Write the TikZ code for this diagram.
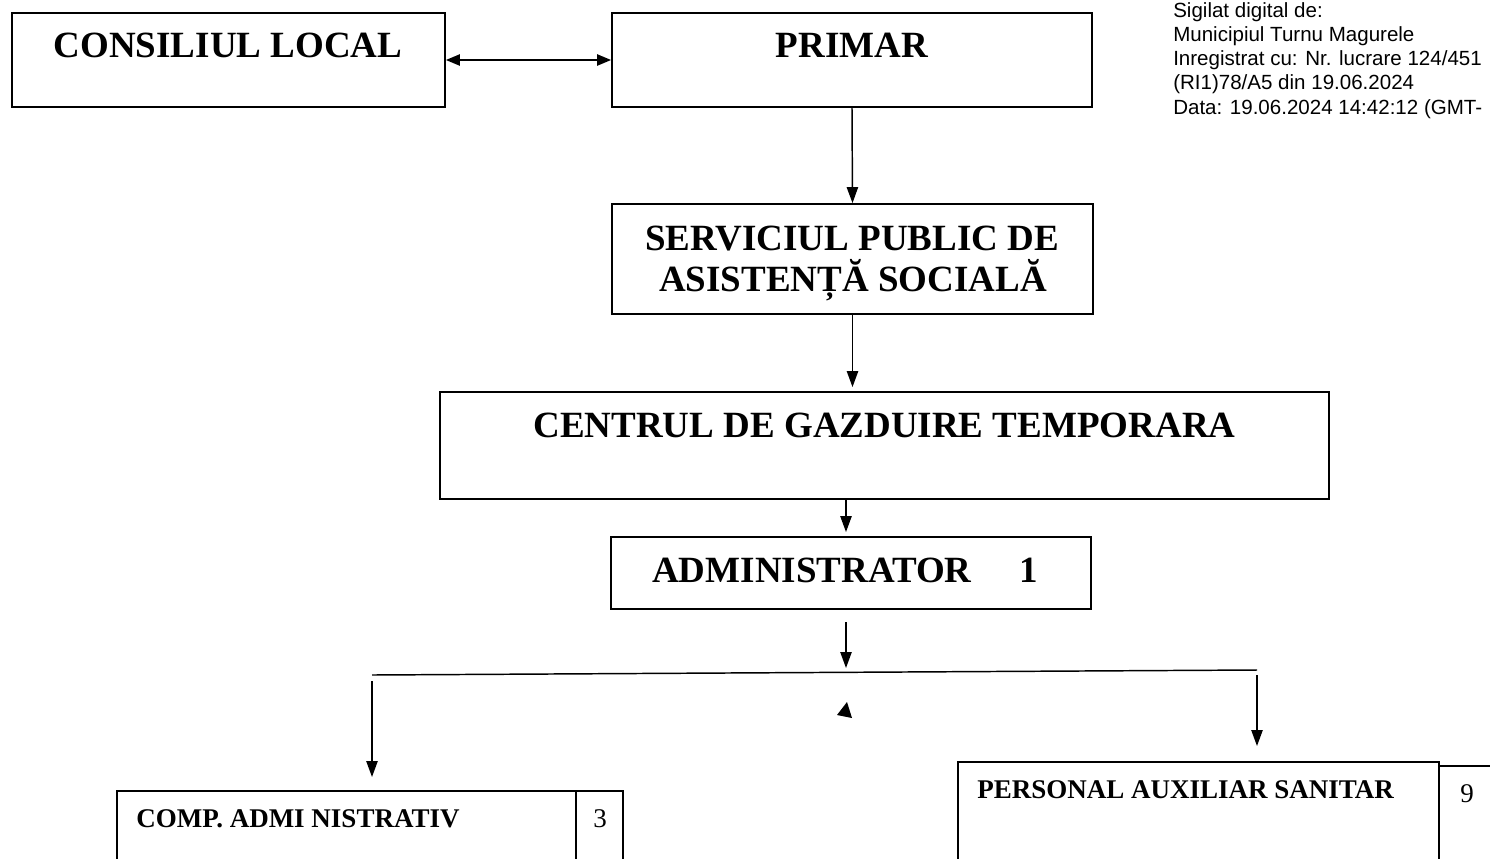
\documentclass[tikz,border=0pt]{standalone}
\usepackage{fontspec}
\setmainfont{Liberation Serif}
\newfontfamily\sealfont{Liberation Sans}
\usetikzlibrary{arrows.meta,fit}
\tikzset{
  box/.style={draw, line width=1.4pt, inner sep=0pt},
  bigtxt/.style={font=\fontsize{27.75}{30}\selectfont\bfseries, inner sep=0pt, anchor=base},
  smalltxt/.style={font=\fontsize{20.25}{24}\selectfont\bfseries, inner sep=0pt, anchor=base west},
  numtxt/.style={font=\fontsize{20.25}{24}\selectfont, inner sep=0pt, anchor=base},
  sealtxt/.style={font=\sealfont\fontsize{15.4}{18}\selectfont, inner sep=0pt, anchor=base west},
  conn/.style={line width=1.1pt},
  arr/.style={line width=1.1pt, -{Triangle[length=12pt,width=8.5pt]}},
  arrtwo/.style={line width=1.1pt, {Triangle[length=10.5pt,width=8.5pt]}-{Triangle[length=10.5pt,width=8.5pt]}}
}
\begin{document}
\begin{tikzpicture}[x=0.75pt,y=-0.75pt]
\path[use as bounding box] (0,0) rectangle (1490,858);
\clip (0,0) rectangle (1490,858);
\fill[white] (0,0) rectangle (1490,858);

% top row
\node[box, fit={(12,13) (445,107)}] (cl) {};
\node[bigtxt] (clt) at (228,57) {CONSILIUL LOCAL};
\node[box, fit={(612,13) (1092,107)}] (pr) {};
\node[bigtxt] (prt) at (852,57) {PRIMAR};
\draw[arrtwo] (cl.east) -- (pr.west);

% seal text
\node[sealtxt] (s1) at (1173,17) {Sigilat digital de:};
\node[sealtxt] (s2) at (1173,41) {Municipiul Turnu Magurele};
\node[sealtxt] (s3) at (1173,65) {Inregistrat cu: Nr. lucrare 124/451};
\node[sealtxt] (s4) at (1173,89) {(RI1)78/A5 din 19.06.2024};
\node[sealtxt] (s5) at (1173,114) {Data: 19.06.2024 14:42:12 (GMT-};

% serviciul public
\node[box, fit={(612,204) (1093,314)}] (sp) {};
\node[bigtxt] (spt1) at (852,250) {SERVICIUL PUBLIC DE};
\node[bigtxt] (spt2) at (853,291) {ASISTENȚĂ SOCIALĂ};
\draw[arr] (pr.south) -- (sp.north);

% centrul
\node[box, fit={(440,392) (1329,499)}] (cgt) {};
\node[bigtxt] (cgtt) at (884.5,437) {CENTRUL DE GAZDUIRE TEMPORARA};
\draw[arr, shorten >=3pt] (sp.south) -- (sp.south |- cgt.north) ;

% administrator
\node[box, fit={(611,537) (1091,609)}] (adm) {};
\node[bigtxt, anchor=base west] (admt) at (652,582) {ADMINISTRATOR\hspace{36pt}1};
\coordinate (c1) at (846,0);
\draw[arr, shorten >=3pt] (cgt.south -| c1) -- (adm.north -| c1);

% bus
\coordinate (d1) at (846,622);
\coordinate (d2) at (846,668);
\draw[arr] (d1) -- (d2);
\coordinate (bl) at (372,675);
\coordinate (br) at (1257,670);
\draw[conn] (bl) -- (br);
\fill (847,702) -- (837,715) -- (852,718) -- cycle;

% bottom boxes
\node[box, fit={(117,791) (576,900)}] (comp) {};
\node[box, fit={(576,791) (623,900)}] (compn) {};
\node[smalltxt] (compt) at (136,827) {COMP. ADMI NISTRATIV};
\node[numtxt] (compnt) at (600,827) {3};

\node[box, fit={(958,762) (1439,900)}] (pers) {};
\node[box, fit={(1439,766) (1530,900)}] (persn) {};
\node[smalltxt] (perst) at (977,798) {PERSONAL AUXILIAR SANITAR};
\node[numtxt] (persnt) at (1467,802) {9};

\coordinate (l1) at (372,681);
\coordinate (l2) at (372,777);
\draw[arr] (l1) -- (l2);
\coordinate (r1) at (1257,675);
\coordinate (r2) at (1257,746);
\draw[arr] (r1) -- (r2);
\end{tikzpicture}
\end{document}
